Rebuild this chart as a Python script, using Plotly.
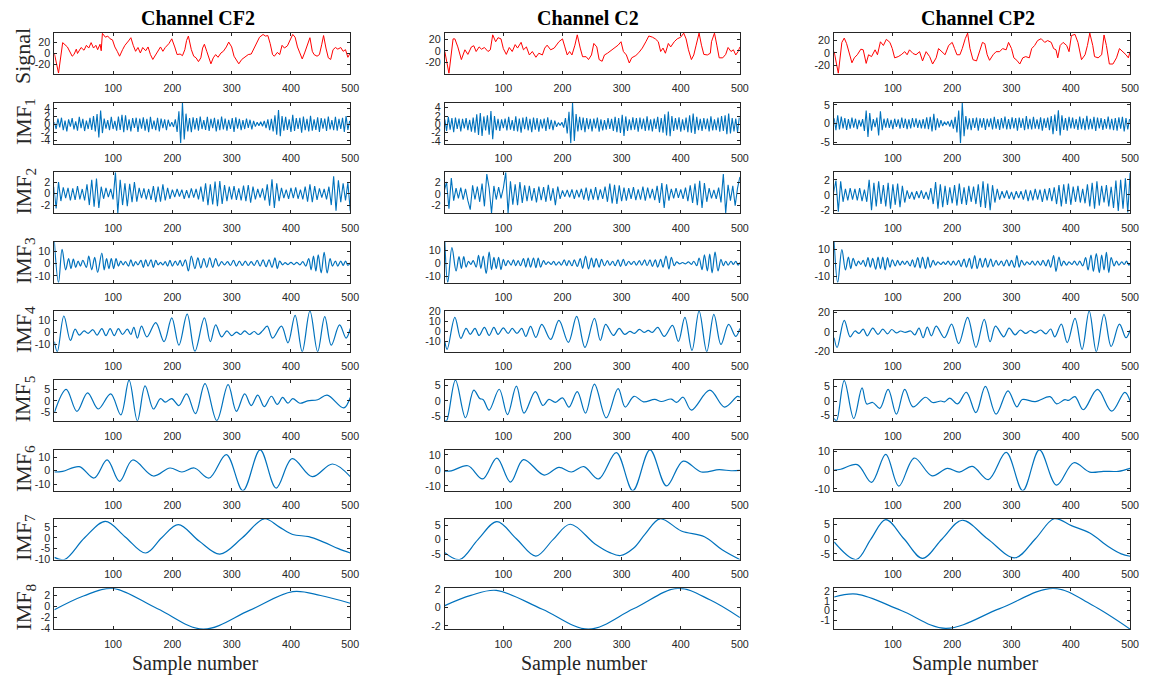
import plotly.graph_objects as go

# ---------------- text ----------------
CHANNELS = ["Channel CF2", "Channel C2", "Channel CP2"]
ROW_LABELS = ["Signal"] + ["IMF<sub>%d</sub>" % k for k in range(1, 9)]
X_LABEL = "Sample number"
X_TICKS = [100, 200, 300, 400, 500]

# ---------------- raw signals (sample, value) ----------------
SIG_CF2_X = [1,8,15,23,31,34,38,40,46,51, 55,59,63,67,71,74,78,80,82,87, 91,95,99,103,107,111,116,120,126,130,
             134,138,142,146,150,155,159,163,167,172, 176,180,184,188,194,199,204,208,213,217, 221,224,227,232,236,240,244,248,251,254,
             258,262,265,269,273,277,282,286,291,295, 300,304,308,312,317,322,328,333,338,342, 347,353,357,361,365,369,372,377,381,385,
             389,394,397,403,407,411,415,419,423,427, 432,436,439,444,448,452,455,459,463,467, 471,475,479,484,488,492,496,500]
SIG_CF2_Y = [0,-36,20,12,-5,-2,8,0,11,6, 15,10,20,10,15,7,17,5,37,30, 32,27,25,12,4,-5,7,15,23,29,
             15,4,11,1,11,5,12,-2,-11,-2, 4,12,4,11,18,27,12,-2,-1,-4, 7,24,32,7,-5,-8,-15,-8,10,17,
             4,-11,-19,-8,-2,-7,1,4,12,21, 12,-5,-13,-19,-11,-7,-2,-1,10,21, 30,35,32,33,18,-2,-5,2,-2,15,
             10,14,21,35,30,12,1,-10,1,12, 29,4,-2,-5,-2,17,33,10,-8,-11, 7,11,8,11,4,7,-7,1]

SIG_C2_X = [1,8,15,18,23,29,35,40,46,50, 54,59,63,68,74,78,82,87,91,96, 100,105,110,115,120,124,130,134,139,144,
            149,155,160,166,170,174,180,186,194,200, 204,208,212,216,221,225,230,234,240,244, 249,253,258,262,267,271,276,281,286,294,
            299,303,308,313,317,324,329,335,341,346, 352,357,362,366,370,374,379,383,389,394, 400,405,409,413,418,422,426,431,435,439,
            445,450,452,457,461,465,471,476,480,485, 489,493,497,500]
SIG_C2_Y = [-1,-39,21,21,7,-15,2,-6,7,9, -1,7,3,6,-1,2,28,16,23,21, 4,-6,6,-1,11,5,15,2,7,-7,
            -1,-11,-4,-7,5,10,2,5,16,21, 7,-7,-1,-7,10,28,5,-10,-10,-15, -7,13,7,-15,-18,-7,-4,0,5,10,
            16,-1,-7,-21,-12,-8,-3,5,16,26, 24,21,16,-1,5,-4,13,7,16,21, 24,31,21,2,-15,-7,10,31,10,-6,
            -7,-4,16,31,10,-12,-12,-6,6,-1, 2,-7,-1,7]

SIG_CP2_X = [1,8,14,18,22,27,31,35,40,46, 50,55,59,64,70,74,79,84,89,95, 99,103,109,114,120,124,128,134,139,145,
             150,156,162,167,173,177,183,188,194,200, 204,208,213,217,222,226,230,235,241,246, 251,255,259,263,269,274,280,285,291,295,
             300,304,309,314,319,324,330,334,339,344, 350,356,361,367,371,375,378,382,387,393, 397,401,407,412,418,424,428,432,437,440,
             446,452,456,460,465,471,477,482,488,493, 497,500]
SIG_CP2_Y = [2,-33,17,24,15,-3,-16,-8,-3,6, 5,-17,-3,-6,5,-3,18,12,22,17, 7,-8,-6,-3,2,-3,5,-1,-3,2,
             -13,2,-6,-18,-8,7,2,-3,12,17, 7,-3,-3,7,23,32,7,-11,-13,2, 17,15,-3,-12,-3,2,2,7,5,17,
             7,-8,-12,-18,-8,-6,-8,7,12,20, 23,17,20,17,7,5,-8,12,17,12, 2,28,30,17,-11,-3,12,32,12,-6,
             -8,-3,29,12,-18,-18,-8,7,2,-3, -8,2]

# ---------------- IMF1: values read every 3 samples, starting at sample 1 ----------------
IMF1_START, IMF1_STEP = 1, 3
IMF1_CF2 = [0.5,-1.2,1.4,-0.8,1.6,-1.5,0.9,-1.8,1.2,-0.6, 1.5,-1.3,0.7,-1.6,1.8,-1.0,1.3,-1.7,0.9,-1.2,
            1.6,-1.4,2.0,-1.8,2.5,-3.3,3.4,-2.2,1.4,-1.1, 1.0,-1.5,1.8,-1.2,0.8,-1.6,1.9,-1.4,2.3,-2.0,
            2.2,-1.5,1.2,-1.8,1.5,-0.9,1.6,-1.9,1.4,-1.1, 1.7,-1.6,1.3,-2.0,1.8,-1.2,0.9,-1.5,1.6,-1.8,
            1.4,-1.0,1.2,-1.5,1.1,-0.6,0.5,-0.7,1.2,-1.9, 3.2,-4.7,5.3,-3.8,2.6,-1.8,1.5,-2.0,1.7,-1.3,
            1.5,-1.6,1.9,-1.2,1.0,-1.4,1.8,-1.7,1.3,-1.0, 1.6,-1.8,1.2,-1.5,1.9,-1.3,1.4,-1.6,1.1,-1.2,
            1.5,-1.9,1.7,-1.1,1.3,-1.5,1.0,-1.2,1.4,-0.9, 1.1,-1.3,0.8,-0.6,0.5,-0.4,0.6,-0.5,0.8,-1.0,
            1.2,-1.5,1.3,-1.8,2.2,-2.6,3.5,-3.0,2.0,-1.6, 1.8,-1.4,1.2,-1.9,2.3,-1.7,1.5,-1.2,1.6,-2.1,
            1.9,-1.5,1.3,-1.8,2.1,-1.6,1.2,-1.4,1.7,-1.9, 1.5,-1.1,1.4,-1.7,1.9,-1.3,1.0,-1.5,1.8,-1.6,
            1.3,-1.2,1.6,-1.9,2.0,-1.4,0.8]
IMF1_C2 = [1.2,-1.6,1.8,-1.3,1.5,-1.9,1.6,-1.1,1.4,-1.7, 1.3,-1.0,1.5,-1.4,1.1,-1.8,1.6,-2.0,2.4,-2.6,
           2.7,-2.8,1.9,-1.5,2.2,-2.5,3.2,-3.6,2.0,-1.4, 1.3,-1.6,1.2,-0.9,1.4,-1.5,1.8,-1.3,1.0,-1.6,
           1.9,-1.7,1.4,-2.0,1.6,-1.2,1.8,-1.5,1.3,-1.9, 1.6,-1.3,1.5,-1.8,1.2,-1.0,1.4,-1.6,1.7,-1.2,
           1.1,-1.4,0.9,-0.6,0.4,-0.3,0.5,-0.8,1.5,-2.2, 3.0,-4.6,5.2,-4.0,2.5,-1.7,1.8,-1.4,1.6,-1.9,
           1.5,-1.2,1.3,-1.7,1.4,-1.0,1.6,-1.8,1.2,-1.5, 1.0,-1.3,1.5,-1.1,1.3,-1.6,1.8,-1.9,1.5,-2.1,
           2.3,-2.8,1.9,-1.6,1.2,-1.4,1.7,-1.3,1.5,-1.8, 1.6,-1.2,1.4,-1.6,1.9,-1.5,1.2,-1.7,1.4,-1.1,
           1.8,-1.9,1.5,-2.0,2.4,-2.7,3.1,-2.9,2.0,-1.6, 1.5,-1.3,1.7,-1.8,1.2,-1.4,1.6,-1.9,2.2,-2.0,
           2.6,-2.3,1.8,-1.4,1.3,-1.6,1.5,-1.2,1.4,-1.7, 1.9,-1.5,1.2,-1.4,1.6,-1.8,2.0,-1.6,2.2,-2.4,
           2.6,-2.2,1.5,-1.7,1.4,-1.9,1.6]
IMF1_CP2 = [1.4,-1.8,2.2,-1.6,1.9,-1.3,1.5,-1.7,1.2,-1.4, 1.6,-1.1,1.3,-1.5,1.0,-0.8,1.2,-2.0,3.5,-3.6,
            2.8,-1.9,1.2,-1.0,1.6,-3.2,3.3,-1.8,1.3,-1.1, 1.4,-1.2,1.0,-1.5,1.3,-0.9,1.1,-1.4,1.6,-1.2,
            1.3,-1.5,1.1,-1.3,1.5,-1.0,1.4,-1.2,1.0,-1.3, 1.2,-1.4,1.7,-1.5,1.8,-2.1,2.6,-1.8,1.4,-1.1,
            0.9,-0.7,0.5,-0.4,0.6,-0.8,1.0,-1.4,1.8,-2.4, 3.5,-5.3,5.6,-3.4,2.0,-1.6,1.4,-1.8,1.5,-1.2,
            1.6,-1.9,1.4,-1.1,1.5,-1.7,1.3,-1.0,1.4,-1.6, 1.8,-1.4,1.2,-1.7,1.5,-1.3,1.9,-1.6,1.2,-1.5,
            1.7,-1.3,1.5,-1.9,1.6,-1.2,1.4,-1.8,2.0,-1.5, 1.3,-1.6,1.8,-1.4,1.1,-1.5,1.7,-1.9,1.4,-1.2,
            1.6,-1.8,2.0,-2.9,2.4,-2.0,3.6,-3.2,2.2,-1.7, 1.5,-1.9,1.8,-1.3,1.6,-1.4,1.2,-1.7,1.9,-1.5,
            1.4,-1.8,2.1,-1.6,1.3,-1.5,1.8,-2.0,1.6,-1.3, 1.5,-1.7,1.2,-1.4,1.9,-1.6,1.3,-1.8,1.5,-1.9,
            1.7,-1.4,1.8,-2.1,1.5,-1.6,1.2]

# ---------------- IMF2: values read every 4 samples, starting at sample 0 ----------------
IMF2_START, IMF2_STEP = 0, 4
IMF2_CF2 = [1.2,-2.6,2.0,-1.3,1.1,-0.8,1.0,-1.2,0.9,-1.1, 1.3,-1.0,0.8,-1.2,1.6,-2.0,2.4,-2.3,2.6,-2.5,
            1.2,-0.9,1.0,-0.6,0.8,-1.0,3.7,-3.4,2.4,-2.0, 1.8,-2.2,1.7,-1.5,2.0,-1.4,1.0,-0.8,0.9,-1.0,
            0.8,-1.1,1.3,-1.5,1.2,-1.4,1.6,-1.2,1.0,-0.9, 0.7,-0.6,0.8,-0.5,0.7,-0.9,0.6,-0.8,0.9,-0.7,
            0.8,-1.0,1.2,-1.4,1.8,-2.0,1.6,-1.9,2.1,-2.2, 2.2,-1.8,1.5,-1.3,1.2,-1.0,1.3,-1.1,0.9,-1.2,
            1.4,-1.3,1.5,-1.6,1.2,-1.0,0.8,-0.7,0.9,-1.2, 1.6,-2.1,2.5,-2.5,1.8,-1.3,1.0,-0.8,0.7,-0.9,
            1.0,-0.8,1.1,-0.9,0.7,-1.0,1.2,-1.4,1.6,-1.5, 1.3,-1.1,0.9,-0.7,0.8,-1.0,1.2,-2.0,3.0,-3.0,
            2.3,-1.5,1.8,-1.2,1.9,-3.0]
IMF2_C2 = [0.5,2.1,-2.6,2.8,-1.2,1.0,-0.8,1.1,-1.0,0.9, -1.2,-2.8,1.5,-1.0,1.3,-1.4,1.8,-2.2,3.5,1.0,
           -3.4,1.4,-1.0,1.2,-0.8,1.0,3.8,-3.4,2.2,-1.9, 1.7,-2.0,2.1,-1.6,1.5,-1.3,1.4,-1.2,1.0,-1.5,
           1.3,-1.1,1.2,-1.4,1.6,-1.2,1.0,-2.0,1.3,-0.9, 0.6,-0.5,0.7,-0.6,0.8,-0.9,0.7,-0.6,0.9,-1.0,
           1.1,-1.2,0.9,-1.0,1.2,-1.1,0.8,-0.9,1.3,-1.4, 1.8,-1.7,1.6,-1.8,1.5,-1.3,1.1,-1.2,1.0,-0.9,
           1.2,-1.1,0.8,-1.0,1.3,-1.2,1.1,-0.8,0.9,-1.1, 1.4,-1.6,1.9,-2.5,1.7,-1.2,0.9,-0.8,1.0,-0.7,
           0.8,-0.9,1.1,-1.3,1.5,-1.6,1.8,-2.0,2.3,-2.5, 1.9,-1.4,1.0,-0.8,0.7,-0.9,1.1,-1.5,3.5,-3.4,
           1.6,-1.2,1.4,-2.1,1.0,3.0]
IMF2_CP2 = [0.3,1.9,-2.2,1.8,-0.9,0.8,-0.7,0.9,-0.6,0.8, -0.7,0.9,-0.8,0.7,-0.9,2.0,-2.0,1.6,-1.5,1.8,
            -1.2,1.3,-1.5,1.6,-1.8,1.4,-1.3,1.5,-1.6,1.2, -1.0,0.6,-0.5,0.4,-0.6,0.5,-0.4,0.6,-0.5,0.4,
            -0.6,0.9,-1.2,1.7,-1.8,1.4,-1.6,1.2,-1.3,1.0, -1.1,1.3,-1.4,1.5,-1.2,1.0,-1.3,1.2,-0.9,1.1,
            -1.2,1.4,-1.6,1.8,-1.7,1.5,-2.0,1.3,-1.0,0.8, -0.6,0.5,-0.4,0.6,-0.5,0.4,-0.6,0.5,-0.4,0.5,
            -0.6,0.7,-0.8,0.6,-0.7,0.8,-0.6,0.7,-0.9,0.8, -0.7,0.9,-0.8,1.0,-1.2,1.3,-1.5,1.4,-1.2,1.5,
            -1.3,1.1,-0.9,1.2,-1.0,0.8,-1.1,1.4,-1.5,1.6, -1.8,1.8,-1.4,1.2,-1.0,1.3,-1.5,1.1,-1.7,1.9,
            -2.1,2.0,-1.8,2.2,-2.3,2.9]

# ---------------- IMF3..IMF8: (sample, value) at extrema ----------------
IMF3_CF2 = [(1,17.4),(8,-15.3),(14,11.5),(20,-5),(25,4),(29,-4),(33,3.5),(37,-3),(41,2),(45,-2),(49,2.5),(55,-3),(59,6),(64,-5),
            (69,5),(74,-7),(81,8.5),(85,-5),(89,4),(93,-4),(97,4),(101,-4),(105,4),(109,-2),(113,2),(117,-1),(121,1.5),(126,-2),
            (130,3),(134,-2),(138,1.5),(142,-1),(147,2.5),(151,-3),(155,3),(159,-2),(164,3),(168,-3),(172,2.5),(176,-1),(180,1),
            (184,-1),(188,1.5),(192,-2),(196,2.5),(200,-2),(205,2),(209,-1.5),(213,2.5),(217,-2),(222,3),(227,-6),(232,6),(238,-4),
            (243,4.5),(248,-3.5),(253,4),(258,-3),(263,4.5),(268,-3),(273,4),(278,-2),(283,1.5),(288,-1),(293,1.5),(298,-1.5),
            (303,2.5),(308,-2),(313,2),(318,-1.5),(323,2),(328,-1.5),(333,1.5),(338,-1.5),(343,2.5),(348,-2),(353,3),(358,-2.5),
            (363,3),(368,-3),(373,4.5),(377,-4),(381,2),(386,-1),(390,0.8),(395,-0.8),(400,1),(405,-0.8),(410,1),(415,-1),
            (420,1.5),(425,-2),(430,4),(434,-5),(438,6),(442,-6),(446,7),(451,-7.5),(456,9),(461,-7.5),(466,4),(470,-2),(475,2),
            (479,-2),(484,2),(488,-1.5),(492,2),(496,-1.5),(500,0.5)]
IMF3_C2 = [(1,16.5),(6,-15),(13,12),(20,-6),(25,5),(29,-4),(33,5),(37,-3),(41,1.5),(45,-1),(49,2),(54,-3),(58,6),(62,-4),
           (66,5.5),(71,-8),(76,8.5),(80,-5),(84,4.5),(88,-4),(92,4.5),(96,-5),(100,3),(104,-2),(108,2),(113,-1.5),(117,2.5),
           (121,-2),(125,2),(129,-2),(134,3.5),(138,-3),(142,4),(146,-3),(151,4),(155,-3.5),(159,4),(163,-3),(168,2),(172,-1),
           (176,1),(181,-1),(185,1.5),(189,-1.5),(194,1),(198,-1.5),(203,2.5),(207,-2),(211,2),(216,-2),(220,2.5),(225,-2.5),
           (230,3.5),(234,-4),(239,5.5),(244,-4.5),(249,4),(253,-3),(257,3.5),(262,-3),(266,3),(271,-2),(276,2),(280,-1.5),
           (285,1.5),(289,-2),(294,2.5),(298,-2.5),(303,3),(307,-2),(312,1.5),(316,-1),(321,1.5),(325,-1.5),(330,2),(334,-1.5),
           (339,2.5),(343,-2),(348,2.5),(352,-2.5),(357,2.5),(361,-3),(366,3),(370,-3),(375,5.5),(380,-4.5),(384,4.5),(389,-2),
           (393,1),(398,-0.5),(403,0.5),(408,-0.5),(413,1),(418,-1),(422,1.5),(427,-2),(431,4),(436,-5),(440,6.5),(445,-6),
           (449,7),(453,-7.5),(458,8.5),(463,-6),(468,3),(472,-2),(476,1.5),(480,-1.5),(485,1.5),(489,-1),(493,1.5),(497,-1.5),(500,0.5)]
IMF3_CP2 = [(1,15.5),(7,-14.2),(14,10),(20,-5),(25,4.5),(29,-4),(33,3.5),(38,-2),(42,1.5),(46,-1),(50,2),(54,-2.5),(58,4),(62,-3),
            (66,3.5),(71,-4.5),(75,4.5),(79,-4),(83,4.5),(87,-5),(91,4),(95,-3),(99,2.5),(104,-2),(108,2),(112,-1.5),(116,1.5),
            (120,-1),(124,1.5),(129,-2),(133,2.5),(137,-3),(142,4),(146,-3.5),(150,4.5),(155,-4),(159,4.5),(163,-3),(168,2),
            (172,-1.5),(176,1),(181,-1),(185,1),(189,-1),(193,1.5),(198,-1.5),(202,1.5),(206,-1.5),(211,2),(215,-2.5),(220,3),
            (224,-3),(229,3.5),(233,-4),(238,5.5),(242,-4),(247,3.5),(251,-3),(256,3.5),(260,-3),(265,3),(269,-2.5),(274,2),
            (278,-1.5),(283,1.5),(287,-2),(292,2.5),(296,-2),(300,2),(305,-3),(309,5.5),(313,-3),(317,2),(322,-1.5),(326,1),
            (331,-1),(335,1.5),(340,-1.5),(344,1.5),(349,-1.5),(353,2),(358,-2),(362,2.5),(366,-3),(371,5.5),(375,-6),(380,4.5),
            (384,-2),(388,1.5),(393,-1.5),(397,1),(402,-1),(406,1.5),(411,-1.5),(415,1.5),(420,-2),(425,4),(429,-5),(434,6),
            (438,-6),(443,7),(448,-7),(452,6),(456,-5),(460,8),(464,-7),(468,4),(473,-2),(477,1.5),(481,-1.5),(486,1),(490,-1),
            (494,1.5),(498,-1.5),(500,-0.5)]

IMF4_CF2 = [(1,-8),(6,-16.4),(17,13.5),(28,-7),(36,2.5),(43,-2.5),(51,1),(58,-1),(66,2),(73,-2.5),(81,3),(88,-3),(95,3),
            (102,-3),(109,3),(116,-2),(124,2.5),(130,-2),(135,4),(141,-5),(148,5),(157,-4),(172,8),(186,-8),(199,12),(211,-11),
            (225,15),(238,-16),(254,12),(264,-8),(273,6),(283,-4),(292,1),(300,-3),(308,0),(315,-2),(322,1),(330,-2),(338,0.5),
            (345,-2),(352,1),(360,5),(369,-5),(384,5),(395,-9),(407,14),(419,-16.4),(432,17.8),(445,-16.4),(457,13),(468,-11),
            (482,6),(493,-5),(500,3)]
IMF4_C2 = [(1,-10),(5,-18),(18,14),(28,-7),(37,3),(44,-3),(52,3),(59,-4),(68,4),(76,-4),(84,4),(91,-3),(100,3.5),(108,-2),
           (115,3),(123,-2),(131,3),(138,-5),(146,5),(155,-6),(165,7),(180,-8),(194,11),(210,-11),(224,15),(238,-16),(254,13),
           (264,-9),(273,7),(286,-4),(296,3),(305,-3),(314,0),(322,-2),(330,2),(338,-1),(345,1),(352,-1),(361,4),(372,-5),
           (386,6),(396,-10),(407,14),(419,-19),(431,20.5),(444,-20.2),(456,17),(468,-13),(481,7),(493,-5),(500,3)]
IMF4_CP2 = [(1,-6),(6,-16),(18,12),(28,-5),(36,1),(43,-1.5),(50,3),(57,-4),(66,4),(75,-2.5),(83,3),(91,-2),(98,2.5),(106,-1),
            (113,1),(121,-0.5),(130,1),(137,-3),(144,4),(151,-6),(158,5),(165,-4),(173,6),(187,-6),(199,8),(211,-12),(226,15),
            (240,-16),(254,13),(264,-10),(273,6),(287,-5),(296,4),(306,-3),(315,2),(324,-1.5),(332,1.5),(340,-1),(349,2),
            (358,-2),(366,3),(373,-5),(384,8),(394,-11),(407,14),(419,-18),(431,21.7),(443,-20.3),(456,18),(468,-15),(482,8),
            (493,-6),(500,2)]

IMF5_CF2 = [(1,-5),(21,5),(39,-4.5),(57,3.5),(75,-3.5),(96,3),(113,-6),(127,9),(141,-8.6),(154,6.5),(168,-3.5),(180,1),
            (188,-0.5),(199,1),(211,-2),(224,3),(239,-5.5),(255,7.5),(275,-8.5),(294,7),(308,-4.5),(322,3),(333,-2),(344,2.5),
            (355,-2.5),(367,2),(377,-1.5),(386,1.5),(395,-1),(403,1),(415,-1),(428,0),(445,0.5),(461,2.5),(489,-3),(500,1.5)]
IMF5_C2 = [(1,-6.4),(4,-6.5),(19,6.8),(36,-5.5),(50,3.5),(60,0.8),(66,0.4),(76,-3),(93,3.8),(107,-4.5),(122,4.8),(135,-4),
           (154,3),(167,-1.5),(177,0.5),(188,-0.5),(200,1),(211,-2),(225,3),(239,-4),(254,5.5),(274,-5.5),(294,4),(306,-2),
           (321,1.5),(337,-0.3),(356,0.5),(367,-0.2),(384,0.6),(393,-0.5),(404,1.2),(418,-3),(449,3.5),(474,-2),(496,1.5),(500,1.2)]
IMF5_CP2 = [(1,-6),(5,-6.8),(18,7),(34,-6),(48,4.5),(56,-1),(66,-0.5),(78,-2.5),(92,4),(106,-4.5),(120,4),(134,-2),(155,1.3),
            (167,-0.5),(181,0),(187,-0.3),(196,1),(209,-1),(224,3),(240,-4),(256,5),(274,-4.5),(294,3.5),(309,-2),(318,0.5),
            (340,-0.2),(365,1.5),(376,-1),(390,0.5),(396,0.2),(407,1.5),(421,-3),(445,4),(469,-3.5),(491,3),(500,0)]

IMF6_CF2 = [(1,-1),(15,-0.5),(43,3),(68,-5.5),(90,8),(111,-8),(133,8),(168,-4),(196,2),(216,-1),(237,2),(262,-5.5),
            (291,12),(319,-14.9),(348,15.6),(375,-13),(402,9),(436,-4.5),(470,5),(500,-4.5)]
IMF6_C2 = [(1,-0.5),(12,-0.3),(40,3),(65,-5.5),(89,8),(112,-7.5),(134,7),(169,-3),(194,2),(215,-1),(236,2.5),(261,-5.5),
           (291,11.5),(319,-13),(348,13.3),(376,-10),(404,6),(435,-1),(465,0.5),(485,-0.2),(500,0)]
IMF6_CP2 = [(1,0),(12,0.5),(40,3),(64,-6.5),(88,8.5),(110,-8.5),(136,6.5),(166,-3),(192,1),(212,-1),(234,2),(261,-5),
            (291,9.5),(319,-10.9),(347,10.9),(376,-8),(405,4),(432,-1),(455,-0.6),(480,-0.6),(500,1)]

IMF7_CF2 = [(1,-9),(18,-10),(52,0),(87,7.5),(120,0.5),(155,-7),(182,0),(210,6),(245,-1.5),(280,-7.5),(318,0),(355,8.7),
            (380,5),(403,1.5),(430,0.5),(455,-2),(480,-5),(500,-7)]
IMF7_C2 = [(1,-4.5),(26,-6.9),(57,0),(89,6.2),(122,0.3),(155,-5.7),(184,0),(213,5.3),(255,-1.5),(280,-4.5),(298,-5.5),
           (320,-3),(340,2),(365,7.2),(401,3),(440,1),(470,-3.5),(500,-6.9)]
IMF7_CP2 = [(1,-1),(38,-6.9),(63,0),(88,6.5),(119,0),(150,-6.5),(183,0),(217,6.3),(260,0),(306,-6.3),(340,0),(372,6.8),
            (401,4.5),(432,2),(463,-2.5),(485,-5),(500,-5.8)]

IMF8_CF2 = [(1,-0.6),(50,1.9),(99,3.3),(175,-0.4),(252,-4.1),(330,-0.7),(403,2.7),(450,2.0),(500,0.6)]
IMF8_C2 = [(1,0.2),(45,1.3),(88,1.85),(166,-0.2),(244,-2.35),(320,-0.15),(395,2.07),(450,0.8),(500,-1.1)]
IMF8_CP2 = [(1,1.4),(39,1.7),(114,0),(189,-1.85),(280,0.2),(371,2.3),(435,0.6),(500,-1.93)]

# ---------------- y axis ranges and ticks (rows x channels) ----------------
Y_RANGES = [
    [(-37, 38), (-39.4, 31.5), (-33.5, 32.5)],
    [(-4.8, 5.3), (-4.65, 5.2), (-5.4, 5.6)],
    [(-3.4, 3.7), (-3.4, 3.8), (-2.4, 3.0)],
    [(-15.3, 17.5), (-15, 16.5), (-14.3, 15.7)],
    [(-16.4, 17.8), (-20.2, 20.5), (-20.3, 21.7)],
    [(-8.6, 9.0), (-6.5, 6.8), (-6.8, 7.2)],
    [(-14.9, 15.6), (-13, 13.3), (-10.9, 10.9)],
    [(-10, 8.7), (-6.9, 7.2), (-6.9, 6.8)],
    [(-4.1, 3.3), (-2.35, 2.07), (-1.93, 2.3)],
]
Y_TICKS = [
    [[-20, 0, 20], [-20, 0, 20], [-20, 0, 20]],
    [[-4, -2, 0, 2, 4], [-4, -2, 0, 2, 4], [-5, 0, 5]],
    [[-2, 0, 2], [-2, 0, 2], [-2, 0, 2]],
    [[-10, 0, 10], [-10, 0, 10], [-10, 0, 10]],
    [[-10, 0, 10], [-10, 0, 10, 20], [-20, 0, 20]],
    [[-5, 0, 5], [-5, 0, 5], [-5, 0, 5]],
    [[-10, 0, 10], [-10, 0, 10], [-10, 0, 10]],
    [[-10, -5, 0, 5], [-5, 0, 5], [-5, 0, 5]],
    [[-4, -2, 0, 2], [-2, 0, 2], [-1, 0, 1, 2]],
]

# ---------------- assemble series ----------------
def grid(start, step, vals):
    return [start + step * i for i in range(len(vals))], vals

def unzip(pairs):
    return [p[0] for p in pairs], [p[1] for p in pairs]

SERIES = [
    [(SIG_CF2_X, SIG_CF2_Y), (SIG_C2_X, SIG_C2_Y), (SIG_CP2_X, SIG_CP2_Y)],
    [grid(IMF1_START, IMF1_STEP, v) for v in (IMF1_CF2, IMF1_C2, IMF1_CP2)],
    [grid(IMF2_START, IMF2_STEP, v) for v in (IMF2_CF2, IMF2_C2, IMF2_CP2)],
    [unzip(p) for p in (IMF3_CF2, IMF3_C2, IMF3_CP2)],
    [unzip(p) for p in (IMF4_CF2, IMF4_C2, IMF4_CP2)],
    [unzip(p) for p in (IMF5_CF2, IMF5_C2, IMF5_CP2)],
    [unzip(p) for p in (IMF6_CF2, IMF6_C2, IMF6_CP2)],
    [unzip(p) for p in (IMF7_CF2, IMF7_C2, IMF7_CP2)],
    [unzip(p) for p in (IMF8_CF2, IMF8_C2, IMF8_CP2)],
]

# ---------------- layout geometry (pixels) ----------------
W, H = 1156, 687
X_DOM = [(54.8, 353.0), (448.3, 745.7), (840.7, 1139.0)]
ROW_TOP = [27.3, 98.5, 169.3, 240.0, 310.3, 380.7, 451.7, 521.9, 592.7]
ROW_H = 41.5
AX_COLOR = "#262626"
BLUE = "#0072BD"
RED = "#FF0000"
TICK_FONT = dict(family="Liberation Sans, Arial, sans-serif", size=10.7, color=AX_COLOR)
SERIF = "Liberation Serif, Times New Roman, serif"

def fmt(v):
    return "%g" % v  # hyphen-minus like MATLAB

fig = go.Figure()
layout = dict(width=W, height=H, autosize=False, margin=dict(l=0, r=0, t=0, b=0, pad=0),
              paper_bgcolor="white", plot_bgcolor="white", showlegend=False, hovermode=False)
annotations = []

for r in range(9):
    top = ROW_TOP[r]
    bot = top + ROW_H
    for c in range(3):
        idx = r * 3 + c + 1
        xa = "xaxis" if idx == 1 else "xaxis%d" % idx
        ya = "yaxis" if idx == 1 else "yaxis%d" % idx
        xr = "x" if idx == 1 else "x%d" % idx
        yr = "y" if idx == 1 else "y%d" % idx
        xs, ys = SERIES[r][c]
        n = min(len(xs), len(ys))
        xs, ys = list(xs)[:n], list(ys)[:n]
        if r == 0:
            line = dict(color=RED, width=1.0)
        elif r <= 2:
            line = dict(color=BLUE, width=1.1)
        else:
            line = dict(color=BLUE, width=1.2, shape="spline", smoothing=1.0)
        fig.add_trace(go.Scatter(x=xs, y=ys, mode="lines", line=line, xaxis=xr, yaxis=yr,
                                 hoverinfo="skip"))
        x0, x1 = X_DOM[c]
        layout[xa] = dict(domain=[x0 / W, x1 / W], anchor=yr, range=[1, 500], autorange=False,
                          tickmode="array", tickvals=X_TICKS, ticktext=[str(t) for t in X_TICKS],
                          ticks="inside", ticklen=3, tickwidth=1, tickcolor=AX_COLOR,
                          showline=True, linecolor=AX_COLOR, linewidth=1, mirror="ticks",
                          showgrid=False, zeroline=False, tickfont=TICK_FONT, ticklabelstandoff=5)
        yt = Y_TICKS[r][c]
        layout[ya] = dict(domain=[1 - bot / H, 1 - top / H], anchor=xr, range=list(Y_RANGES[r][c]),
                          autorange=False, tickmode="array", tickvals=yt, ticktext=[fmt(t) for t in yt],
                          ticks="inside", ticklen=3, tickwidth=1, tickcolor=AX_COLOR,
                          showline=True, linecolor=AX_COLOR, linewidth=1, mirror="ticks",
                          showgrid=False, zeroline=False, tickfont=TICK_FONT, ticklabelstandoff=1)
    annotations.append(dict(text=ROW_LABELS[r], x=(22.5 if r == 0 else 25.0) / W,
                            y=1 - (top + ROW_H / 2 + (2.5 if r == 0 else -2.0)) / H,
                            xref="paper", yref="paper", xanchor="center", yanchor="middle",
                            textangle=-90, showarrow=False,
                            font=dict(family=SERIF, size=22, color=AX_COLOR)))

TITLE_X = [199.5, 593.0, 985.5]
XLABEL_X = [196.5, 589.0, 982.5]
for c in range(3):
    annotations.append(dict(text="<b>%s</b>" % CHANNELS[c], x=TITLE_X[c] / W, y=1 - 12.0 / H,
                            xref="paper", yref="paper", xanchor="center", yanchor="middle",
                            showarrow=False, font=dict(family=SERIF, size=20, color="black")))
    annotations.append(dict(text=X_LABEL, x=XLABEL_X[c] / W, y=1 - 669.0 / H,
                            xref="paper", yref="paper", xanchor="center", yanchor="middle",
                            showarrow=False, font=dict(family=SERIF, size=20, color=AX_COLOR)))

layout["annotations"] = annotations
fig.update_layout(**layout)
fig.write_html("out.html", config={"displayModeBar": False, "staticPlot": True},
               post_script="document.body.style.margin='0px';document.body.style.overflow='hidden';")
